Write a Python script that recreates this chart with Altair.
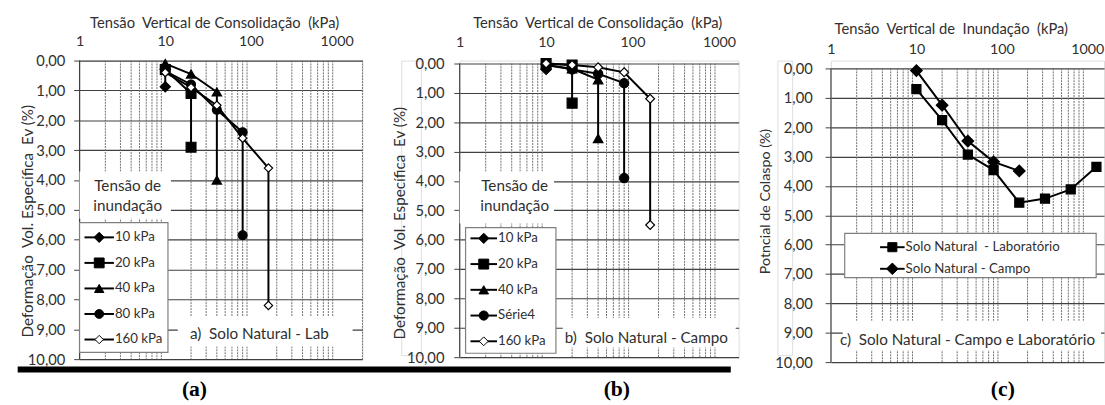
import altair as alt
import pandas as pd

FONT = "Lato"
TXT = "#303030"
GRID = "#404040"
MINORC = "#6e6e6e"
NB = "\u00a0"

# ---------------- data ----------------
X_LABELS = [1, 10, 100, 1000]
MINOR = [2, 3, 4, 5, 6, 7, 8, 9, 20, 30, 40, 50, 60, 70, 80, 90,
         200, 300, 400, 500, 600, 700, 800, 900, 2000]
Y_TICKS = [0, 1, 2, 3, 4, 5, 6, 7, 8, 9, 10]

# (a) Solo Natural - Lab : Ev (%) vs consolidation stress; last point = after inundation
A_NAMES = ["10 kPa", "20 kPa", "40 kPa", "80 kPa", "160 kPa"]
A_10_X = [10, 10]
A_10_Y = [0.30, 0.88]
A_20_X = [10, 20, 20]
A_20_Y = [0.30, 1.10, 2.90]
A_40_X = [10, 20, 40, 40]
A_40_Y = [0.10, 0.45, 1.05, 4.00]
A_80_X = [10, 20, 40, 80, 80]
A_80_Y = [0.35, 0.80, 1.65, 2.40, 5.85]
A_160_X = [10, 20, 40, 80, 160, 160]
A_160_Y = [0.40, 0.90, 1.50, 2.60, 3.60, 8.20]

# (b) Solo Natural - Campo
B_NAMES = ["10 kPa", "20 kPa", "40 kPa", "Série4", "160 kPa"]
B_10_X = [10, 10]
B_10_Y = [0.02, 0.20]
B_20_X = [10, 20, 20]
B_20_Y = [0.00, 0.05, 1.35]
B_40_X = [10, 20, 40, 40]
B_40_Y = [0.05, 0.18, 0.55, 2.55]
B_80_X = [10, 20, 40, 80, 80]
B_80_Y = [0.05, 0.20, 0.35, 0.67, 3.90]
B_160_X = [10, 20, 40, 80, 160, 160]
B_160_Y = [0.00, 0.05, 0.13, 0.30, 1.20, 5.50]

# (c) Potencial de colapso vs inundation stress
C_NAMES = ["Solo Natural" + NB + " - Laboratório", "Solo Natural - Campo"]
C_LAB_X = [10, 20, 40, 80, 160, 320, 640, 1280]
C_LAB_Y = [0.70, 1.76, 2.93, 3.46, 4.57, 4.43, 4.12, 3.35]
C_CAMPO_X = [10, 20, 40, 80, 160]
C_CAMPO_Y = [0.07, 1.25, 2.47, 3.18, 3.49]

SHAPES5 = ["diamond", "square", "triangle-up", "circle", "diamond"]
FILLS5 = ["black", "black", "black", "black", "white"]


def series_df(series):
    rows = []
    for name, xs, ys in series:
        for i, (xv, yv) in enumerate(zip(xs, ys)):
            rows.append({"series": name, "x": xv, "y": yv, "i": i})
    return pd.DataFrame(rows)


def one(data=None):
    return alt.Chart(pd.DataFrame({"k": [0]}) if data is None else data)


def make_panel(series, names, shapes, fills, sizes, lsizes, xmax, width, height, y0, g):
    df = series_df(series)
    xscale = alt.Scale(type="log", domain=[1, xmax], nice=False)
    yscale = alt.Scale(domain=[y0, 10], reverse=True, nice=False, zero=False)
    xaxis = alt.Axis(orient="top", values=X_LABELS, labelExpr="format(datum.value, 'd')",
                     grid=False, domain=False, ticks=False, labelFlush=False,
                     labelBaseline="middle", labelPadding=g["xlabpad"], labelFont=FONT,
                     labelFontSize=14.5, labelColor=TXT, title=g["xtitle"], titleFont=FONT,
                     titleFontSize=15, titleFontWeight="normal", titleColor=TXT,
                     titleX=g["xtx"], titleY=g["xty"], titleBaseline="middle")
    yaxis = alt.Axis(values=Y_TICKS, labelExpr="replace(format(datum.value, '.2f'), '.', ',')",
                     grid=True, gridColor=GRID, gridWidth=1.2, domain=False, tickSize=6,
                     tickColor=GRID, labelPadding=g["ylabpad"], labelFont=FONT, labelFontSize=15,
                     labelColor=TXT, title=g["ytitle"], titleFont=FONT, titleFontSize=g["ytfs"],
                     titleFontWeight="normal", titleColor=TXT, titleX=g["ytx"], titleY=g["yty"],
                     titleBaseline="middle")
    X = alt.X("x:Q", scale=xscale, axis=xaxis)
    Y = alt.Y("y:Q", scale=yscale, axis=yaxis)
    shape = alt.Shape("series:N", scale=alt.Scale(domain=names, range=shapes), legend=None)
    fill = alt.Fill("series:N", scale=alt.Scale(domain=names, range=fills), legend=None)

    minor = pd.DataFrame({"x": [v for v in MINOR if v <= xmax]})
    minor["y"] = 0
    minor["y2"] = 10
    grid_minor = alt.Chart(minor).mark_rule(color=MINORC, strokeWidth=1, strokeDash=[2, 1]).encode(
        x=X, y=Y, y2="y2:Q")
    border = alt.Chart(pd.DataFrame({"x": [1], "y": [0], "y2": [10]})).mark_rule(
        color=GRID, strokeWidth=1.2).encode(x=X, y=Y, y2="y2:Q")
    lines = alt.Chart(df).mark_line(color="black", strokeWidth=2).encode(
        x=X, y=Y, detail="series:N", order="i:Q")
    pts = alt.Chart(df).mark_point(filled=True, stroke="black", strokeWidth=1.2, opacity=1,
                                   fillOpacity=1).encode(
        x=X, y=Y, shape=shape, fill=fill,
        size=alt.Size("series:N", scale=alt.Scale(domain=names, range=sizes), legend=None))

    layers = [grid_minor, border, lines, pts]

    for (x1, x2, y1, y2, stroke) in g["boxes"]:
        kw = dict(fill="white")
        if stroke:
            kw.update(stroke="#7f7f7f", strokeWidth=1.2)
        layers.append(one().mark_rect(**kw).encode(
            x=alt.value(x1), x2=alt.value(x2), y=alt.value(y1), y2=alt.value(y2)))

    # manual legend
    lg = g["legend"]
    leg = pd.DataFrame({"series": names})
    leg["ly"] = [lg["y0"] + k * lg["dy"] for k in range(len(names))]
    leg["lx1"] = lg["x1"]
    leg["lx2"] = lg["x2"]
    leg["mx"] = (lg["x1"] + lg["x2"]) / 2
    leg["tx"] = lg["x2"] + 1
    LX = lambda f: alt.X(f + ":Q", scale=None, axis=None)
    LY = alt.Y("ly:Q", scale=None, axis=None)
    layers.append(alt.Chart(leg).mark_rule(color="black", strokeWidth=2).encode(
        x=LX("lx1"), x2="lx2:Q", y=LY))
    layers.append(alt.Chart(leg).mark_point(filled=True, stroke="black", strokeWidth=1, opacity=1,
                                            fillOpacity=1).encode(
        x=LX("mx"), y=LY, shape=shape, fill=fill,
        size=alt.Size("series:N", scale=alt.Scale(domain=names, range=lsizes), legend=None)))
    layers.append(alt.Chart(leg).mark_text(align="left", baseline="middle", font=FONT,
                                           fontSize=13.5, color=TXT).encode(
        x=LX("tx"), y=LY, text="series:N"))

    for (tx, ty, t, kw) in g["texts"]:
        base = dict(font=FONT, fontSize=15.5, color=TXT, align="center", baseline="middle")
        base.update(kw)
        layers.append(one().mark_text(text=t, **base).encode(x=alt.value(tx), y=alt.value(ty)))

    for extra in g.get("extra", []):
        layers.append(extra)

    return alt.layer(*layers).properties(width=width, height=height)


LETTER = dict(font="Liberation Serif", fontSize=22, fontWeight="bold", color="black")

bar = one().mark_rule(color="black", strokeWidth=6).encode(
    x=alt.value(-63), x2=alt.value(663), y=alt.value(314.5))
anchor = one().mark_rule(color="white", strokeWidth=1).encode(
    x=alt.value(-80), x2=alt.value(-79), y=alt.value(-57))

TCONS = "Tensão" + NB + " Vertical de Consolidação" + NB + " (kPa)"
TINUN = "Tensão" + NB + " Vertical de" + NB + " Inundação" + NB + " (kPa)"
YDEF = "Deformação" + NB + " Vol. Específica" + NB + " Ev (%)"

ga = dict(
    xtitle=TCONS, xtx=137, xty=-39, xlabpad=19,
    ytitle=YDEF, ytx=-53, yty=163, ylabpad=9, ytfs=15.5,
    boxes=[(0, 93, 113, 161, False), (0, 90, 165, 297, True), (100, 278, 261, 291, False)],
    legend=dict(x1=5, x2=35, y0=180, dy=26),
    texts=[(49, 128, "Tensão de", {}), (49, 148, "inundação", {}),
           (183, 278, "a)" + NB + " Solo Natural - Lab", {}),
           (117, 335, "(a)", LETTER)],
    extra=[bar, anchor],
)
gb = dict(
    xtitle=TCONS, xtx=140, xty=-39, xlabpad=18,
    ytitle=YDEF, ytx=-61, yty=165, ylabpad=10, ytfs=15.5,
    boxes=[(0, 96, 113, 166, False), (6, 98, 170, 298, True), (105, 281, 262, 292, False)],
    legend=dict(x1=11, x2=38, y0=181, dy=26.2),
    texts=[(56, 128, "Tensão de", {}), (56, 148, "inundação", {}),
           (190, 283, "b)" + NB + " Solo Natural - Campo", {}),
           (160, 335, "(b)", LETTER)],
)
gc = dict(
    xtitle=TINUN, xtx=122, xty=-33, xlabpad=11,
    ytitle="Potncial de Colaspo (%)", ytx=-67, yty=143, ylabpad=13, ytfs=14.5,
    boxes=[(14, 270, 176, 221, True), (12, 275, 265, 295, False)],
    legend=dict(x1=50, x2=75, y0=190, dy=22),
    texts=[(139, 285, "c)" + NB + " Solo Natural - Campo e Laboratório", {}),
           (175, 335, "(c)", LETTER)],
)

pa = make_panel([(A_NAMES[0], A_10_X, A_10_Y), (A_NAMES[1], A_20_X, A_20_Y),
                 (A_NAMES[2], A_40_X, A_40_Y), (A_NAMES[3], A_80_X, A_80_Y),
                 (A_NAMES[4], A_160_X, A_160_Y)],
                A_NAMES, SHAPES5, FILLS5, [110, 72, 95, 60, 80], [60, 55, 60, 40, 40],
                2000, 288, 304, 0, ga)
pb = make_panel([(B_NAMES[0], B_10_X, B_10_Y), (B_NAMES[1], B_20_X, B_20_Y),
                 (B_NAMES[2], B_40_X, B_40_Y), (B_NAMES[3], B_80_X, B_80_Y),
                 (B_NAMES[4], B_160_X, B_160_Y)],
                B_NAMES, SHAPES5, FILLS5, [110, 80, 100, 64, 90], [60, 55, 60, 40, 40],
                1690, 284, 302, -0.1, gb)
pc = make_panel([(C_NAMES[0], C_LAB_X, C_LAB_Y), (C_NAMES[1], C_CAMPO_X, C_CAMPO_Y)],
                C_NAMES, ["square", "diamond"], ["black", "black"], [85, 140], [55, 60],
                1570, 278, 307, -0.27, gc)


def spacer(w):
    return one().mark_point(opacity=0).encode(x=alt.value(0), y=alt.value(0)).properties(
        width=w, height=300)


chart = alt.hconcat(pa, spacer(0), pb, spacer(15), pc, spacing=39.5, bounds="flush").resolve_scale(
    shape="independent", fill="independent", size="independent"
).properties(padding=0).configure_view(stroke=None).configure(font=FONT, background="white")

chart.save("out.html", embed_options={"renderer": "svg", "actions": False})
